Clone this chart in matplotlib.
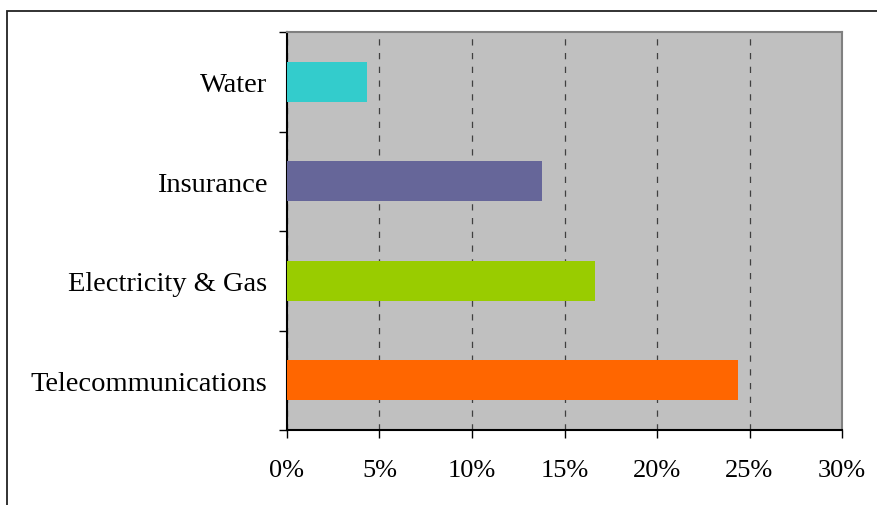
import matplotlib.pyplot as plt
from matplotlib.patches import Rectangle
from matplotlib.ticker import FuncFormatter

categories = ["Telecommunications", "Electricity & Gas", "Insurance", "Water"]
shares = [24.4, 16.65, 13.8, 4.3]
colors = ["#FF6600", "#99CC00", "#666699", "#33CCCC"]
x_ticks = [0, 5, 10, 15, 20, 25, 30]

plt.rcParams["font.family"] = ["Liberation Serif", "DejaVu Serif"]

fig = plt.figure(figsize=(8.78, 5.06), dpi=100)
ax = fig.add_axes([287 / 878, 1 - 431 / 506, (842 - 287) / 878, (431 - 33) / 506])

# outer frame around the chart area
fig.patches.append(Rectangle((7 / 878, -0.1), 1.2, 1 - 12 / 506 + 0.1,
                             transform=fig.transFigure, fill=False,
                             edgecolor="#222222", linewidth=1.3))

ax.set_facecolor("#C0C0C0")
y = range(len(categories))
ax.barh(y, shares, height=0.4, color=colors, zorder=3)

ax.set_xlim(0, 30)
ax.set_ylim(-0.5, len(categories) - 0.5)
ax.set_xticks(x_ticks)
ax.xaxis.set_major_formatter(FuncFormatter(lambda v, p: "%d%%" % v))
ax.set_yticks(list(y))
ax.set_yticklabels(categories)
ax.set_yticks([i - 0.5 for i in range(len(categories) + 1)], minor=True)

ax.tick_params(axis="y", which="major", length=0, pad=14, labelsize=20.5)
ax.tick_params(axis="y", which="minor", length=6, width=1, direction="out")
ax.tick_params(axis="x", length=6, width=1, direction="out", pad=15, labelsize=19)

ax.xaxis.grid(True, linestyle=(0, (5, 6)), color="#404040", linewidth=0.9, zorder=1)
ax.set_axisbelow(True)

ax.spines["left"].set_color("black")
ax.spines["bottom"].set_color("black")
ax.spines["top"].set_color("#808080")
ax.spines["right"].set_color("#808080")
for s in ax.spines.values():
    s.set_linewidth(1.5)

fig.savefig("out.png", dpi=100)
